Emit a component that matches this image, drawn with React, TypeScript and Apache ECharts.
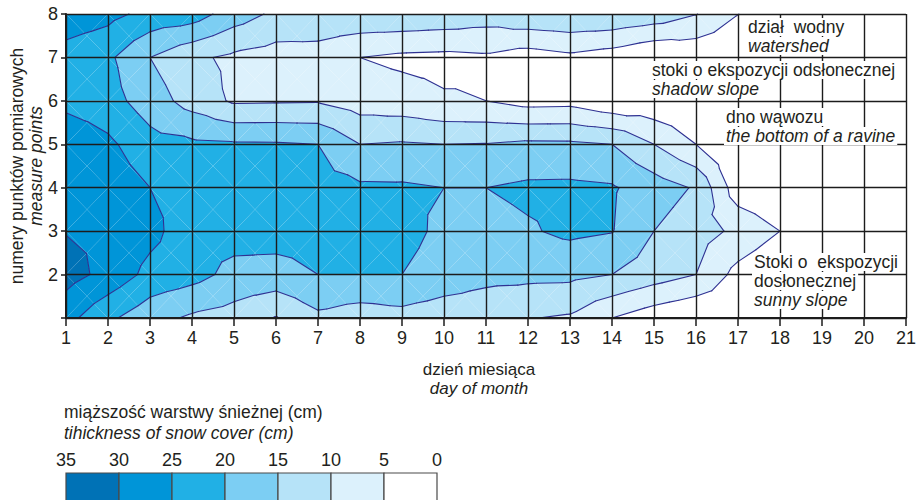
import React, { useEffect, useRef } from "react";
import * as echarts from "echarts";

// ---- data ----
const DAYS = [1, 2, 3, 4, 5, 6, 7, 8, 9, 10, 11, 12, 13, 14, 15, 16, 17, 18, 19, 20, 21];
const POINTS = [1, 2, 3, 4, 5, 6, 7, 8];

// snow thickness (cm) at each measure point, per day 1..21
const SNOW_P1 = [26.7, 21, 16.8, 14.2, 12.9, 9.7, 13.9, 12.3, 13.2, 12, 11.5, 10.2, 9.4, 5, 2, 0, 0, 0, 0, 0, 0];
const SNOW_P2 = [32, 28.5, 23.5, 21.8, 18.5, 18.2, 20, 20, 20, 18, 16.5, 16.3, 16.2, 15, 12.4, 10, 3.3, 0, 0, 0, 0];
const SNOW_P3 = [29.8, 29.5, 26.5, 22, 22, 22, 22, 22, 21.5, 19, 18.5, 19.5, 21, 20.2, 15, 12, 9, 5, 0, 0, 0];
const SNOW_P4 = [29, 28, 25, 23, 23, 23, 22, 20.8, 20.7, 20, 20, 20.9, 21, 20.5, 17.5, 14.5, 2, 0, 0, 0, 0];
const SNOW_P5 = [29, 26, 21.8, 21, 20.6, 20.5, 20, 15, 15.5, 15, 15.2, 16, 15.9, 15, 10, 5, 0, 0, 0, 0, 0];
const SNOW_P6 = [23.5, 22, 17.5, 13, 9.3, 9.5, 9.6, 7.6, 7, 5.5, 5, 3.2, 3.4, 1, 1.2, 0, 0, 0, 0, 0, 0];
const SNOW_P7 = [23, 21, 15, 11, 9, 7.8, 7.9, 5, 4, 3.7, 4.2, 2.6, 3.9, 2.5, 0, 1, 0, 0, 0, 0, 0];
const SNOW_P8 = [28, 26.5, 23.5, 22.5, 17.5, 14, 13.5, 14, 14, 13.5, 12.5, 14, 14.5, 14.4, 13, 10.2, 5.1, 0, 0, 0, 0];
const SNOW_ROWS = [SNOW_P1, SNOW_P2, SNOW_P3, SNOW_P4, SNOW_P5, SNOW_P6, SNOW_P7, SNOW_P8];

const LEVELS = [0, 5, 10, 15, 20, 25, 30, 35];
const CONTOUR_LEVELS = [5, 10, 15, 20, 25, 30];
const BAND_COLORS = ["#FFFFFF", "#DCF1FC", "#B6E3F8", "#7CCEF3", "#21B0E5", "#0095D8", "#0072B6"];

const Y_TITLE = ["numery punktów pomiarowych", "measure points"];
const X_TITLE = ["dzień miesiąca", "day of month"];
const LEGEND_TITLE = ["miąższość warstwy śnieżnej (cm)", "tihickness of snow cover (cm)"];
const ZONES = [
  { lines: ["dział  wodny", "watershed"], x: 746, ys: [27, 46] },
  { lines: ["stoki o ekspozycji odsłonecznej", "shadow slope"], x: 650, ys: [70, 89] },
  { lines: ["dno wąwozu", "the bottom of a ravine"], x: 724, ys: [117, 136] },
  { lines: ["Stoki o  ekspozycji", "dosłonecznej", "sunny slope"], x: 752, ys: [262, 281, 300] },
];

const FONT = '"Liberation Sans", Arial, Helvetica, sans-serif';
const INK = "#231F20";
const GRIDC = "#1C1C1C";
const LINEC = "#2E3192";

type P = [number, number, number];

function cellTriangles(i: number, j: number): P[][] {
  const x0 = DAYS[i], x1 = DAYS[i + 1], y0 = POINTS[j], y1 = POINTS[j + 1];
  const v00 = SNOW_ROWS[j][i], v10 = SNOW_ROWS[j][i + 1];
  const v01 = SNOW_ROWS[j + 1][i], v11 = SNOW_ROWS[j + 1][i + 1];
  const c: P = [(x0 + x1) / 2, (y0 + y1) / 2, (v00 + v10 + v01 + v11) / 4];
  const p00: P = [x0, y0, v00], p10: P = [x1, y0, v10], p11: P = [x1, y1, v11], p01: P = [x0, y1, v01];
  return [[p00, p10, c], [p10, p11, c], [p11, p01, c], [p01, p00, c]];
}

function clip(poly: P[], level: number, keepAbove: boolean): P[] {
  const out: P[] = [];
  const n = poly.length;
  for (let k = 0; k < n; k++) {
    const a = poly[k], b = poly[(k + 1) % n];
    const ina = keepAbove ? a[2] >= level : a[2] <= level;
    const inb = keepAbove ? b[2] >= level : b[2] <= level;
    if (ina) out.push(a);
    if (ina !== inb) {
      const t = (level - a[2]) / (b[2] - a[2]);
      out.push([a[0] + t * (b[0] - a[0]), a[1] + t * (b[1] - a[1]), level]);
    }
  }
  return out;
}

const CELLS: number[][] = [];
for (let j = 0; j < POINTS.length - 1; j++)
  for (let i = 0; i < DAYS.length - 1; i++) CELLS.push([DAYS[i], POINTS[j], i, j]);

function txt(text: string, x: number, y: number, opts: any = {}) {
  return {
    type: "text",
    x,
    y,
    z: 20,
    rotation: opts.rotation || 0,
    silent: true,
    style: {
      text,
      fill: INK,
      fontSize: opts.size || 18,
      lineHeight: 16,
      fontFamily: FONT,
      fontStyle: opts.italic ? "italic" : "normal",
      align: opts.align || "left",
      verticalAlign: "middle",
      backgroundColor: opts.bg,
      padding: opts.bg ? [1, 2, 1, 2] : undefined,
    },
  };
}

export default function App() {
  const ref = useRef<HTMLDivElement>(null);
  useEffect(() => {
    if (!ref.current) return;
    const chart = echarts.init(ref.current, undefined, { renderer: "svg" });

    const graphics: any[] = [];
    // y-axis title (rotated)
    graphics.push(txt(Y_TITLE[0], 17, 166, { rotation: Math.PI / 2, align: "center", size: 17.5 }));
    graphics.push(txt(Y_TITLE[1], 36, 166, { rotation: Math.PI / 2, align: "center", italic: true, size: 17.5 }));
    // x-axis title
    graphics.push(txt(X_TITLE[0], 479, 369, { align: "center", size: 17 }));
    graphics.push(txt(X_TITLE[1], 479, 388, { align: "center", italic: true, size: 17 }));
    // zone annotations
    ZONES.forEach((z) => {
      z.lines.forEach((l, k) => {
        const italic = k === z.lines.length - 1;
        graphics.push(txt(l, z.x, z.ys[k], { italic, bg: "#FFFFFF", size: 17.5 }));
      });
    });
    // legend
    graphics.push(txt(LEGEND_TITLE[0], 64, 412, { size: 17.5 }));
    graphics.push(txt(LEGEND_TITLE[1], 64, 433, { italic: true, size: 17.5 }));
    const revLevels = LEVELS.slice().reverse();
    const revColors = BAND_COLORS.slice().reverse();
    const boxW = 53;
    revLevels.forEach((lv, k) => {
      graphics.push(txt(String(lv), 66 + k * boxW, 460, { align: "center" }));
    });
    revColors.forEach((c, k) => {
      graphics.push({
        type: "rect",
        z: 20,
        silent: true,
        shape: { x: 66 + k * boxW, y: 473, width: boxW, height: 32 },
        style: { fill: c, stroke: "#4A4A4A", lineWidth: 1.2 },
      });
    });

    const axisCommon = {
      type: "value",
      interval: 1,
      z: 3,
      axisLine: { show: true, onZero: false, lineStyle: { color: GRIDC, width: 2 } },
      axisTick: { show: true, inside: false, lineStyle: { color: GRIDC, width: 1.5 } },
      splitLine: { show: true, lineStyle: { color: GRIDC, width: 1.4 } },
    };

    chart.setOption({
      animation: false,
      grid: { left: 66, top: 14, width: 841, height: 304, containLabel: false },
      xAxis: {
        ...axisCommon,
        min: DAYS[0],
        max: DAYS[DAYS.length - 1],
        axisTick: { ...axisCommon.axisTick, length: 8 },
        axisLabel: { fontSize: 18, color: INK, fontFamily: FONT, margin: 11 },
      },
      yAxis: {
        ...axisCommon,
        min: POINTS[0],
        max: POINTS[POINTS.length - 1],
        axisTick: { ...axisCommon.axisTick, length: 5 },
        axisLabel: {
          fontSize: 18,
          color: INK,
          fontFamily: FONT,
          margin: 8,
          formatter: (v: number) => (v === POINTS[0] ? "" : String(v)),
        },
      },
      graphic: { elements: graphics },
      series: [
        {
          type: "custom",
          coordinateSystem: "cartesian2d",
          z: 1,
          silent: true,
          clip: true,
          encode: { x: 0, y: 1 },
          data: CELLS,
          renderItem: (params: any, api: any) => {
            const i = api.value(2), j = api.value(3);
            const children: any[] = [];
            for (const tri of cellTriangles(i, j)) {
              for (let b = 0; b < BAND_COLORS.length; b++) {
                let poly: P[] = tri;
                if (b > 0) poly = clip(poly, LEVELS[b], true);
                if (poly.length < 3) continue;
                if (b < BAND_COLORS.length - 1) poly = clip(poly, LEVELS[b + 1], false);
                if (poly.length < 3) continue;
                children.push({
                  type: "polygon",
                  silent: true,
                  shape: { points: poly.map((p) => api.coord([p[0], p[1]])) },
                  style: { fill: BAND_COLORS[b] },
                });
              }
            }
            return { type: "group", children };
          },
        },
        {
          type: "custom",
          coordinateSystem: "cartesian2d",
          z: 2,
          silent: true,
          encode: { x: 0, y: 1 },
          data: CELLS,
          renderItem: (params: any, api: any) => {
            const i = api.value(2), j = api.value(3);
            const children: any[] = [];
            for (const tri of cellTriangles(i, j)) {
              for (const L of CONTOUR_LEVELS) {
                const pts: number[][] = [];
                for (let k = 0; k < 3; k++) {
                  const a = tri[k], b = tri[(k + 1) % 3];
                  if ((a[2] >= L) !== (b[2] >= L)) {
                    const t = (L - a[2]) / (b[2] - a[2]);
                    pts.push(api.coord([a[0] + t * (b[0] - a[0]), a[1] + t * (b[1] - a[1])]));
                  }
                }
                if (pts.length === 2) {
                  children.push({
                    type: "line",
                    silent: true,
                    shape: { x1: pts[0][0], y1: pts[0][1], x2: pts[1][0], y2: pts[1][1] },
                    style: { stroke: LINEC, lineWidth: 1.1, lineCap: "round" },
                  });
                }
              }
            }
            return { type: "group", children };
          },
        },
      ],
    });
    return () => chart.dispose();
  }, []);
  return (
    <div
      ref={ref}
      style={{ position: "absolute", left: 0, top: 0, width: 919, height: 500, background: "#fff" }}
    />
  );
}
